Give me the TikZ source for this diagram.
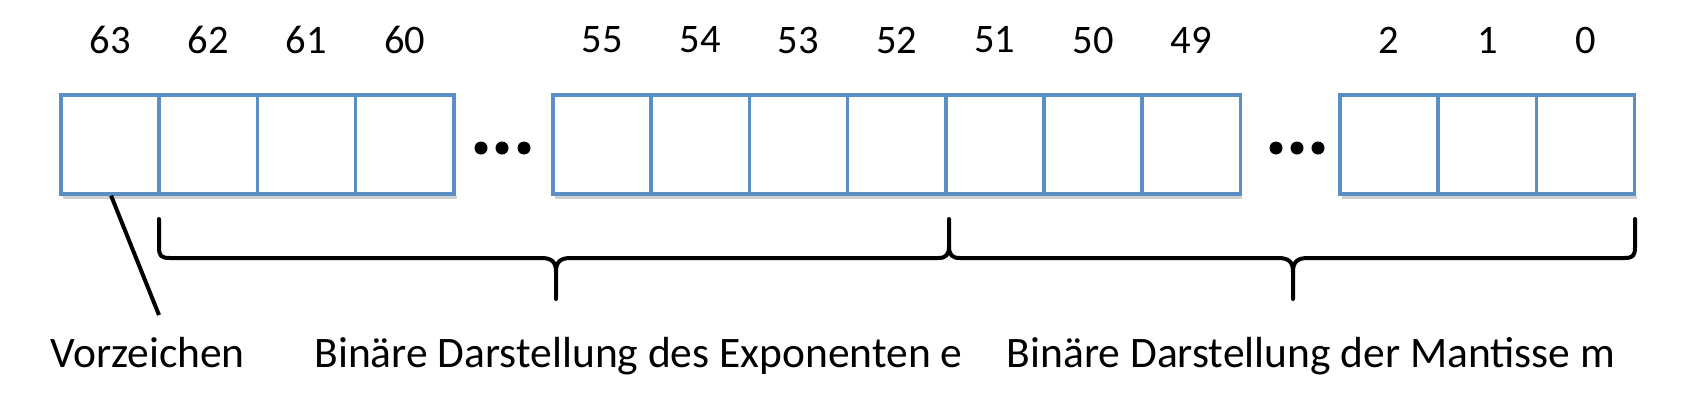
\documentclass[tikz,border=0pt]{standalone}
\usepackage{fontspec}
\setmainfont{Carlito}
\definecolor{cellblue}{RGB}{92,142,198}
\begin{document}
\begin{tikzpicture}[x=1pt,y=-1pt,
  cell/.style={draw=cellblue,line width=3.5pt,minimum width=98.2pt,minimum height=99pt,inner sep=0pt,fill=white},
  num/.style={font=\fontsize{40.5}{46}\selectfont,inner sep=0pt},
  lbl/.style={font=\fontsize{43.5}{50}\selectfont,inner sep=0pt,anchor=base},
  bracepath/.style={line width=4pt,line cap=round,line join=round},
  shadowline/.style={draw=black!18,line width=3pt}]
\useasboundingbox (0,0) rectangle (1692,400);
% faint drop shadows
\foreach \a/\b in {61/454.8,553/1240.4,1340/1634.6}{
  \draw[shadowline] (\a+2,197.5) -- (\b+2,197.5);
}
% cells
\foreach \n/\x in {63/110.1,62/208.3,61/306.5,60/404.7,
                   55/602.1,54/700.3,53/798.5,52/896.7,51/994.9,50/1093.1,49/1191.3,
                   2/1389.1,1/1487.3,0/1585.5}{
  \node[cell] (c\n) at (\x,144.5) {};
  \node[num] (l\n) at (\x,40) {\n};
}
% ellipses
\foreach \x in {481,502,524}{\fill (\x,148) circle (6.5);}
\foreach \x in {1276,1297,1318}{\fill (\x,148) circle (6.5);}
% labels
\node[lbl] (vz) at (147.5,367) {Vorzeichen};
\node[lbl] (ex) at (638.5,367) {Binäre Darstellung des Exponenten e};
\node[lbl] (ma) at (1311,367) {Binäre Darstellung der Mantisse m};
% sign line
\coordinate (vzend) at (159,315);
\draw[line width=4pt] ([xshift=1pt]c63.south) -- (vzend);
% braces
\coordinate (b1l) at (159,219);
\coordinate (b1t) at (556,299);
\coordinate (bm) at (949,219);
\coordinate (b2t) at (1293,299);
\coordinate (b2r) at (1635,219);
\draw[bracepath] (b1l) -- (159,247) .. controls (159,256) and (161,258) .. (170,258)
  -- (541,258) .. controls (552,258) and (556,262) .. (556,272) -- (b1t);
\draw[bracepath] (556,272) .. controls (556,262) and (560,258) .. (571,258)
  -- (938,258) .. controls (946,258) and (949,255) .. (949,246) -- (bm);
\draw[bracepath] (949,246) .. controls (949,255) and (952,258) .. (960,258)
  -- (1278,258) .. controls (1289,258) and (1293,262) .. (1293,272) -- (b2t);
\draw[bracepath] (1293,272) .. controls (1293,262) and (1297,258) .. (1308,258)
  -- (1624,258) .. controls (1633,258) and (1635,256) .. (1635,247) -- (b2r);
\end{tikzpicture}
\end{document}
